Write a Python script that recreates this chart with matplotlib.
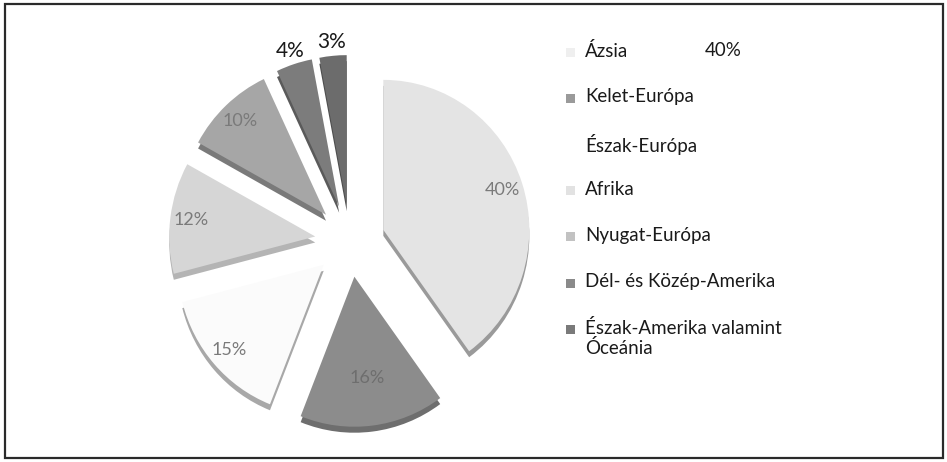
import matplotlib
matplotlib.use("Agg")
import matplotlib.pyplot as plt
from matplotlib.patches import Rectangle
import numpy as np

# ---- data ----
regions = ["Ázsia", "Kelet-Európa", "Észak-Európa", "Afrika", "Nyugat-Európa",
           "Dél- és Közép-Amerika", "Észak-Amerika valamint\nÓceánia"]
shares = [40, 16, 15, 12, 10, 4, 3]

# ---- style ----
top_colors = ["#e4e4e4", "#8c8c8c", "#fbfbfb", "#d6d6d6", "#a6a6a6", "#7c7c7c", "#6c6c6c"]
side_colors = ["#9a9a9a", "#6e6e6e", "#a8a8a8", "#b4b4b4", "#7a7a7a", "#5a5a5a", "#4e4e4e"]
legend_colors = ["#efefef", "#9a9a9a", "#ffffff", "#e2e2e2", "#c2c2c2", "#8a8a8a", "#7a7a7a"]
FONT = ["Lato", "DejaVu Sans"]
plt.rcParams["font.family"] = FONT

W, H = 947, 462
fig = plt.figure(figsize=(W / 100, H / 100), dpi=100)

# pixel geometry of the pie
cx, cy, rx, ry = 350, 241, 146, 150
ax = fig.add_axes([0, 0, 1, 1])
explode = [0.24] * len(shares)
depth = 6 / ry

# side (3D depth) layer
ax.pie(shares, colors=side_colors, startangle=90, counterclock=False,
       explode=explode, center=(0, -depth), normalize=True,
       wedgeprops=dict(linewidth=0))
# top layer
wedges, _ = ax.pie(shares, colors=top_colors, startangle=90, counterclock=False,
                   explode=explode, center=(0, 0), normalize=True,
                   wedgeprops=dict(linewidth=0))

ax.set_aspect("auto")
ax.set_xlim(-cx / rx, (W - cx) / rx)
ax.set_ylim(-(H - cy) / ry, cy / ry)
ax.axis("off")

# percent labels
for w, v in zip(wedges, shares):
    mid = np.deg2rad((w.theta1 + w.theta2) / 2)
    c = w.center
    if v < 5:
        d, col, fs = 1.09, "#1a1a1a", 15
    elif v == 16:
        d, col, fs = 0.68, "#6e6e6e", 13
    else:
        d, col, fs = 0.86, "#7a7a7a", 13
    ax.text(c[0] + d * np.cos(mid), c[1] + d * np.sin(mid), f"{v}%",
            ha="center", va="center", color=col, fontsize=fs)

# legend (pixel coordinates)
lax = fig.add_axes([0, 0, 1, 1])
lax.set_xlim(0, W)
lax.set_ylim(H, 0)
lax.axis("off")
lax.patch.set_alpha(0)
y0, dy = 52, 46.2
for i, (lab, col) in enumerate(zip(regions, legend_colors)):
    y = y0 + i * dy
    lax.add_patch(Rectangle((566, y - 4.5), 9, 9, facecolor=col, edgecolor="none"))
    lax.text(585, y - 10, lab, ha="left", va="top", fontsize=13.5,
             color="#1a1a1a", linespacing=1.15)
lax.text(705, y0 - 10, f"{shares[0]}%", ha="left", va="top", fontsize=13.5, color="#1a1a1a")

# frame
lax.add_patch(Rectangle((5, 4), 938, 454, facecolor="none", edgecolor="#2a2a2a", linewidth=1.6))

fig.savefig("out.png", dpi=100)
